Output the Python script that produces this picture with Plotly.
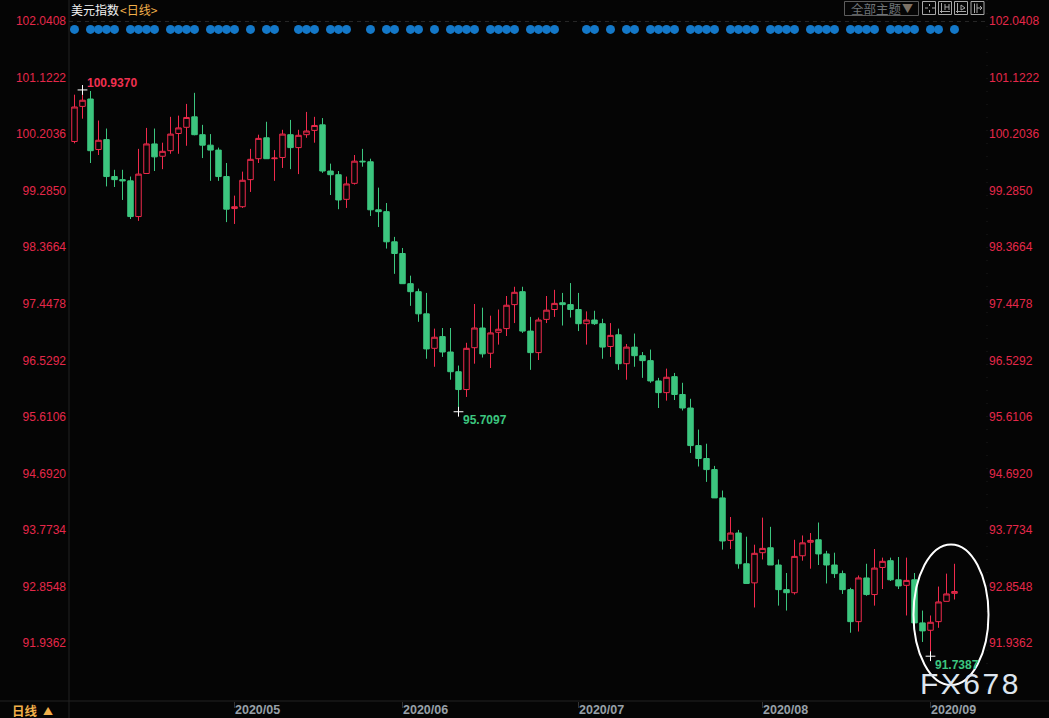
import pandas as pd
import plotly.graph_objects as go

dates = [d.strftime("%Y-%m-%d") for d in pd.bdate_range("2020-04-03", periods=111)]

opens = [100.10,100.67,100.79,99.97,100.13,99.53,99.48,99.46,98.88,99.58,100.06,99.86,99.95,100.23,100.33,100.50,100.21,100.04,99.96,99.53,
99.01,99.04,99.48,99.82,100.16,99.82,99.84,100.21,100.00,100.21,100.28,100.37,99.62,99.56,99.16,99.42,99.78,99.77,98.99,98.96,
98.47,98.28,97.79,97.66,97.30,96.74,96.93,96.68,96.36,96.07,96.75,97.07,96.66,97.00,97.06,97.45,97.66,97.02,96.67,97.21,
97.37,97.48,97.45,97.37,97.14,97.20,97.14,96.77,96.96,96.49,96.76,96.62,96.54,96.21,96.02,96.28,95.99,95.77,95.16,94.95,
94.77,94.31,93.62,93.74,93.24,92.93,93.42,93.50,93.22,92.82,92.77,93.37,93.59,93.63,93.40,93.22,93.08,92.82,92.30,93.01,
92.74,93.18,93.29,92.98,92.89,92.98,92.28,92.16,92.30,92.63,92.76]
highs = [100.86,100.94,100.92,100.44,100.31,99.64,99.64,99.53,99.98,100.32,100.31,100.08,100.50,100.52,100.71,100.89,100.37,100.22,100.00,99.75,
99.22,99.61,99.98,100.21,100.42,99.96,100.29,100.45,100.29,100.58,100.50,100.48,99.74,99.62,99.53,99.88,99.98,99.82,99.35,99.10,
98.55,98.37,97.92,97.71,97.64,97.06,97.07,97.07,96.46,96.83,97.46,97.40,97.27,97.37,97.59,97.74,97.74,97.25,97.24,97.59,
97.69,97.64,97.80,97.64,97.34,97.35,97.22,97.15,97.06,96.81,96.98,96.68,96.72,96.26,96.41,96.34,96.18,95.92,95.42,95.19,
94.83,94.43,94.00,93.79,93.68,93.55,93.99,93.84,93.31,93.09,93.63,93.70,93.74,93.91,93.45,93.42,93.13,92.85,93.05,93.24,
93.48,93.34,93.34,93.35,93.34,93.09,92.48,92.40,92.87,93.08,93.24]
lows = [100.07,100.47,99.75,99.88,99.37,99.36,99.15,98.84,98.81,99.58,99.62,99.65,99.90,99.90,100.03,100.20,99.83,99.46,99.46,98.79,
98.76,99.02,99.28,99.75,99.82,99.46,99.67,99.65,99.57,100.16,100.08,99.59,99.23,99.00,99.02,99.40,99.69,98.89,98.71,98.36,
97.95,97.79,97.43,97.17,96.57,96.44,96.60,96.23,95.71,95.95,96.49,96.59,96.42,96.80,96.94,97.15,96.99,96.39,96.55,97.15,
97.25,97.11,97.24,97.02,96.80,97.12,96.57,96.60,96.39,96.23,96.44,96.26,96.18,95.77,95.89,95.90,95.73,95.04,94.82,94.57,
94.31,93.47,93.48,93.16,92.92,92.53,93.31,93.22,92.56,92.48,92.74,93.29,93.16,93.22,92.92,93.01,92.75,92.12,92.14,92.72,
92.56,92.83,92.96,92.83,92.40,92.28,91.97,91.74,92.20,92.63,92.66]
closes = [100.66,100.77,99.95,100.12,99.53,99.48,99.46,98.88,99.57,100.06,99.85,99.94,100.22,100.32,100.49,100.21,100.04,99.96,99.53,99.00,
99.04,99.47,99.81,100.15,99.82,99.83,100.22,100.00,100.20,100.27,100.36,99.62,99.56,99.15,99.41,99.78,99.77,98.99,98.96,98.47,
98.28,97.79,97.66,97.30,96.73,96.92,96.68,96.36,96.07,96.74,97.07,96.65,96.99,97.05,97.44,97.65,97.02,96.67,97.20,97.36,
97.47,97.45,97.37,97.14,97.20,97.14,96.76,96.95,96.49,96.76,96.62,96.54,96.21,96.02,96.27,95.99,95.77,95.16,94.95,94.77,
94.31,93.61,93.74,93.24,92.92,93.41,93.49,93.22,92.82,92.77,93.36,93.58,93.62,93.40,93.22,93.08,92.82,92.30,93.01,92.74,
93.17,93.28,92.98,92.88,92.97,92.28,92.15,92.29,92.62,92.75,92.79]

signal_days = [0,2,3,4,5,7,8,9,10,12,13,14,15,17,18,19,20,22,24,25,28,29,30,32,33,34,37,39,40,42,43,45,47,48,49,50,
52,53,54,55,57,58,59,60,64,65,67,69,70,72,73,74,75,77,78,79,80,82,83,84,85,87,88,89,90,92,93,94,95,97,98,99,100,
102,103,104,105,107,108,110]
signal_level = 101.92

price_ticks = [102.0408,101.1222,100.2036,99.2850,98.3664,97.4478,96.5292,95.6106,94.6920,93.7734,92.8548,91.9362]
month_ticks = ["2020-05-01","2020-06-01","2020-07-01","2020-08-03","2020-09-01"]
month_labels = ["2020/05","2020/06","2020/07","2020/08","2020/09"]
extreme_days = [dates[1],dates[48],dates[107]]
extreme_prices = [100.9370,95.7097,91.7387]

BG = "#050505"
RED = "#f02a4c"
GREEN = "#3cc67f"
LABEL_RED = "#e6284a"
ORANGE = "#f2b04a"
LINE = "#222222"
FONT = "Liberation Sans"
W, H = 1049, 718
L, R, T, B = 69, 985, 0, 701
YMIN, YMAX = 91.011, 102.398
LABEL_SHIFT = 0.016

def px(x):
    return (x - L) / (R - L)

def py(y):
    return 1 - (y - T) / (B - T)

fig = go.Figure()
fig.add_trace(go.Candlestick(
    x=dates, open=opens, high=highs, low=lows, close=closes,
    increasing=dict(line=dict(color=RED, width=1), fillcolor=BG),
    decreasing=dict(line=dict(color=GREEN, width=1), fillcolor=GREEN),
    whiskerwidth=0, showlegend=False, hoverinfo="skip",
))
fig.add_trace(go.Scatter(
    x=[dates[i] for i in signal_days], y=[signal_level] * len(signal_days),
    mode="markers", marker=dict(color="#1478c8", size=9), showlegend=False, hoverinfo="skip",
))
fig.add_trace(go.Scatter(
    x=extreme_days, y=extreme_prices, mode="markers",
    marker=dict(symbol="cross-thin", size=7, line=dict(color="#ffffff", width=1)),
    showlegend=False, hoverinfo="skip",
))
for axis in ("y2", "y3"):
    fig.add_trace(go.Scatter(x=dates[:1], y=[99], yaxis=axis, mode="markers", marker=dict(opacity=0),
                             showlegend=False, hoverinfo="skip"))

yfont = dict(family=FONT, size=12, color=LABEL_RED)
ticktext = [f"{v:.4f}" for v in price_ticks]
label_range = [YMIN - LABEL_SHIFT, YMAX - LABEL_SHIFT]
fig.update_layout(
    width=W, height=H, autosize=False,
    margin=dict(l=L, r=W - R, t=T, b=H - B, autoexpand=False),
    paper_bgcolor=BG, plot_bgcolor=BG, boxgap=0.02, dragmode=False,
    font=dict(family=FONT),
    xaxis=dict(type="category", categoryorder="array", categoryarray=dates,
               range=[(L - 74.5) / 8, (R - 74.5) / 8], rangeslider=dict(visible=False),
               tickmode="array", tickvals=month_ticks, ticktext=month_labels,
               ticks="outside", ticklen=6, tickcolor="#333333",
               ticklabelposition="outside right", ticklabelstandoff=-3,
               tickfont=dict(family=FONT, size=12.5, color="#98a0a8", weight="bold"),
               showgrid=False, zeroline=False, showline=False),
    yaxis=dict(range=[YMIN, YMAX], showticklabels=False, showgrid=False, zeroline=False,
               showline=False, ticks=""),
    yaxis2=dict(range=label_range, overlaying="y", side="right", tickmode="array",
                tickvals=price_ticks, ticktext=ticktext, tickfont=yfont, showgrid=False,
                zeroline=False, showline=False, ticks="", ticklabelstandoff=3),
    yaxis3=dict(range=label_range, overlaying="y", side="left", tickmode="array",
                tickvals=price_ticks, ticktext=ticktext, tickfont=yfont, showgrid=False,
                zeroline=False, showline=False, ticks="", ticklabelstandoff=2),
)

shapes = [
    dict(type="line", xref="paper", yref="paper", x0=px(69), x1=px(69), y0=py(0), y1=py(718),
         line=dict(color=LINE, width=1)),
    dict(type="line", xref="paper", yref="paper", x0=px(0), x1=px(1049), y0=py(701), y1=py(701),
         line=dict(color=LINE, width=1)),
    dict(type="line", xref="paper", yref="paper", x0=px(69), x1=px(985), y0=py(21.5), y1=py(21.5),
         line=dict(color="#262626", width=1, dash="4px,4px")),
    dict(type="line", xref="paper", yref="paper", x0=px(987), x1=px(987), y0=py(0), y1=py(701),
         line=dict(color="#1c1c1c", width=1, dash="1px,12px")),
    dict(type="circle", xref="paper", yref="paper", x0=px(913.5), x1=px(988.5), y0=py(544.5), y1=py(685),
         line=dict(color="#ffffff", width=2)),
    dict(type="rect", xref="paper", yref="paper", x0=px(844.5), x1=px(918.5), y0=py(1.5), y1=py(15.5),
         line=dict(color="#5c5c5c", width=1)),
]
for x0 in (922.5, 938.5, 954.5, 971):
    shapes.append(dict(type="rect", xref="paper", yref="paper", x0=px(x0), x1=px(x0 + 13), y0=py(1.5), y1=py(14.5),
                       line=dict(color="#a8a8a8", width=1)))
glyphs = [
    (925, 8, 928, 8), (932, 8, 935, 8), (929.5, 4, 929.5, 6), (929.5, 10, 929.5, 12.5),
    (941.5, 3, 941.5, 13), (940, 11.5, 950, 11.5), (945, 4, 945, 10), (949, 4, 949, 10), (945, 7, 949, 7),
    (957.5, 3, 957.5, 13), (956, 11.5, 966, 11.5), (961, 5, 965, 8), (961, 10, 965, 8), (961, 5, 961, 10),
    (974.5, 3.5, 974.5, 13), (977, 3.5, 977, 13), (977, 8, 982, 8), (980, 6, 982, 8), (980, 10, 982, 8),
]
for x0, y0, x1, y1 in glyphs:
    shapes.append(dict(type="line", xref="paper", yref="paper", x0=px(x0), x1=px(x1), y0=py(y0), y1=py(y1),
                       line=dict(color="#a8a8a8", width=1)))
fig.update_layout(shapes=shapes)

def text(x, y, s, color, size=12, bold=False, family=FONT, anchor="left"):
    fig.add_annotation(xref="paper", yref="paper", x=px(x), y=py(y), text=s, showarrow=False,
                       xanchor=anchor, yanchor="middle", align=anchor, borderpad=0, borderwidth=0,
                       font=dict(family=family, size=size, color=color, weight="bold" if bold else "normal"))

CJK = "Noto Sans CJK SC"
text(71, 9, "美元指数", "#f2f2f2", 12, family=CJK)
text(120, 9, "&lt;日线&gt;", ORANGE, 12, family=CJK)
text(851, 8.5, "全部主题", "#6f7478", 12.5, family=CJK)
text(902, 8.5, "▼", "#7d7266", 11, family=CJK)
text(87, 83, "100.9370", "#f03050", 12, True)
text(463, 420, "95.7097", GREEN, 12, True)
text(935, 665, "91.7387", GREEN, 12, True)
text(12, 710, "日线", ORANGE, 12.5, True, CJK)
text(43, 710, "▲", ORANGE, 10, False, CJK)
text(920, 683, "F\u200aX\u200a6\u200a7\u200a8", "#dde5ef", 30)

fig.write_html("out.html", config=dict(staticPlot=True, displayModeBar=False),
               post_script="document.body.style.margin='0';document.body.style.background='#050505';document.body.style.overflow='hidden';")
